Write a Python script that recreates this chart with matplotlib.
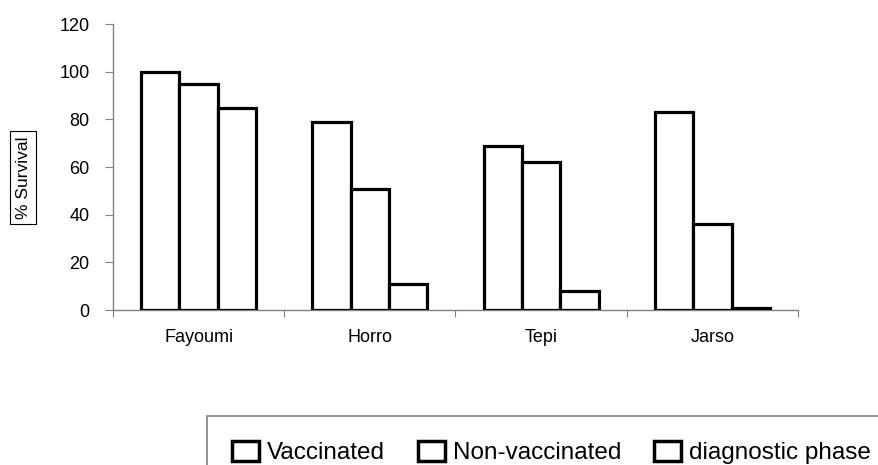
import numpy as np
import matplotlib.pyplot as plt
from matplotlib.patches import Patch, Rectangle

plt.rcParams["font.family"] = ["Liberation Sans", "DejaVu Sans"]

breeds = ["Fayoumi", "Horro", "Tepi", "Jarso"]
series = ["Vaccinated", "Non-vaccinated", "diagnostic phase"]
vaccinated = [100, 79, 69, 83]
non_vaccinated = [95, 51, 62, 36]
diagnostic = [85, 11, 8, 1]

grey = "#808080"

fig = plt.figure(figsize=(8.79, 4.65), dpi=100)
ax = fig.add_axes([0.1286, 0.3333, 0.7792, 0.6147])

x = np.arange(len(breeds))
w = 0.224
for j, vals in enumerate([vaccinated, non_vaccinated, diagnostic]):
    ax.bar(x + (j - 1) * w, vals, w, facecolor="white", edgecolor="black",
           linewidth=2.3, zorder=3)

ax.set_xlim(-0.5, len(breeds) - 0.5)
ax.set_ylim(0, 120)
ax.set_yticks(range(0, 121, 20))

# tick marks sit on the category boundaries, labels in the middle
ax.set_xticks(np.arange(-0.5, len(breeds), 1.0))
ax.set_xticklabels([])
ax.set_xticks(x, minor=True)
ax.set_xticklabels(breeds, minor=True, fontsize=13)
ax.tick_params(axis="x", which="minor", length=0, pad=14)
ax.tick_params(axis="x", which="major", length=5, color=grey, direction="out")
ax.tick_params(axis="y", length=6, color=grey, labelsize=13, pad=11)

for s in ("top", "right"):
    ax.spines[s].set_visible(False)
for s in ("left", "bottom"):
    ax.spines[s].set_color(grey)
    ax.spines[s].set_linewidth(1.0)

fig.text(0.0262, 0.618, "% Survival", rotation=90, ha="center", va="center",
         fontsize=12.5,
         bbox=dict(boxstyle="square,pad=0.3", facecolor="white",
                   edgecolor="black", linewidth=0.8))

# legend box runs off the right and bottom edges
fig.patches.append(Rectangle((0.2355, -0.1), 0.9, 0.2054,
                             transform=fig.transFigure, facecolor="white",
                             edgecolor=grey, linewidth=1.2))

handles = [Patch(facecolor="white", edgecolor="black", linewidth=2.5)
           for _ in series]
leg = fig.legend(handles, series, loc="upper left",
                 bbox_to_anchor=(0.264, 0.052), borderaxespad=0, ncol=3,
                 fontsize=17.5, frameon=False, borderpad=0,
                 handlelength=1.1, handleheight=0.9,
                 handletextpad=0.33, columnspacing=1.36)

fig.savefig("out.png", dpi=100)
